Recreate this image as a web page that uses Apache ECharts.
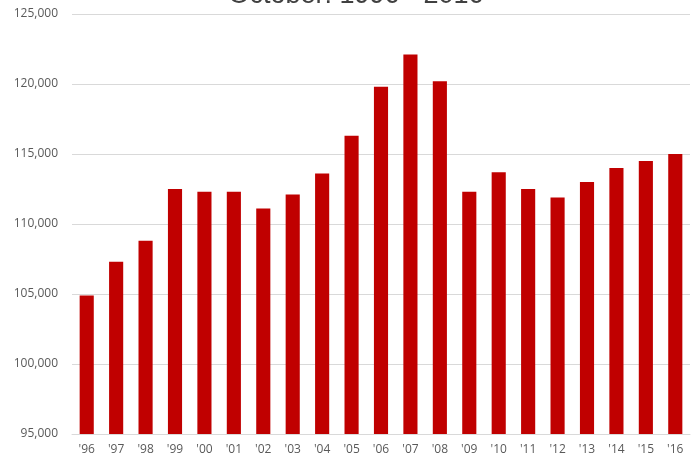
<!DOCTYPE html>
<html>
<head>
<meta charset="utf-8">
<script src="https://cdn.jsdelivr.net/npm/echarts@6/dist/echarts.min.js"></script>
<style>html,body{margin:0;padding:0;background:#fff;}#c{width:692px;height:458px;}</style>
</head>
<body>
<div id="c"></div>
<script>
var categories = ["'96","'97","'98","'99","'00","'01","'02","'03","'04","'05","'06","'07","'08","'09","'10","'11","'12","'13","'14","'15","'16"];
var values = [104900,107300,108800,112500,112300,112300,111100,112100,113600,116300,119800,122100,120200,112300,113700,112500,111900,113000,114000,114500,115000];
var titleText = "October: 1996 - 2016";

var chart = echarts.init(document.getElementById('c'), null, {renderer:'canvas'});
chart.setOption({
  animation: false,
  title: {
    text: titleText, left: 351, textAlign: 'center', top: -23,
    textStyle: {fontFamily: 'Liberation Sans', fontSize: 27, fontWeight: 'normal', color: '#404040'}
  },
  grid: {left: 72, right: 2, top: 14, bottom: 24, containLabel: false},
  xAxis: {
    type: 'category', data: categories,
    axisLine: {lineStyle: {color: '#d9d9d9'}},
    axisTick: {show: false},
    axisLabel: {color: '#595959', fontFamily: 'Open Sans', fontSize: 12, margin: 10}
  },
  yAxis: {
    type: 'value', min: 95000, max: 125000, interval: 5000,
    axisLine: {show: false}, axisTick: {show: false},
    splitLine: {lineStyle: {color: '#d9d9d9'}},
    axisLabel: {color: '#595959', fontFamily: 'Open Sans', fontSize: 12, margin: 14,
      formatter: function(v){ return v.toLocaleString('en-US'); }}
  },
  series: [{
    type: 'bar', data: values, barWidth: '48%',
    itemStyle: {color: '#C00000'}
  }]
});
</script>
</body>
</html>
